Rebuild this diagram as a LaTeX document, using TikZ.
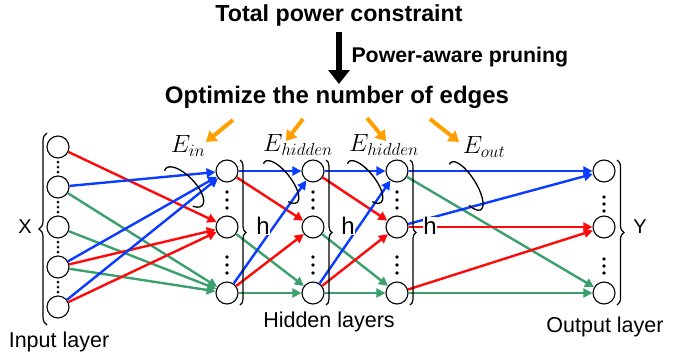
\documentclass[tikz,border=0pt]{standalone}
\usepackage{fontspec}
\setmainfont{Liberation Sans}
\usetikzlibrary{arrows.meta,decorations.pathreplacing}
\definecolor{eblue}{RGB}{10,60,255}
\definecolor{ered}{RGB}{255,10,10}
\definecolor{egreen}{RGB}{60,160,110}
\definecolor{eorange}{RGB}{255,160,0}
\begin{document}
\begin{tikzpicture}[x=1pt,y=-1pt,
  neuron/.style={circle,draw,line width=1.1pt,minimum size=22pt,inner sep=0pt},
  edge/.style={line width=2.4pt,-{Triangle[length=9pt,width=9pt]}},
  bl/.style={edge,eblue}, rd/.style={edge,ered}, gr/.style={edge,egreen},
  orangearrow/.style={line width=4pt,eorange,-{Triangle[length=10pt,width=13pt]}},
  brc/.style={decorate,decoration={brace,amplitude=6pt},line width=1.2pt},
  loopline/.style={line width=1.3pt},
  lbl/.style={font=\fontsize{20}{24}\selectfont},
  layerlbl/.style={font=\fontsize{21.5}{25}\selectfont},
  hlbl/.style={font=\fontsize{24}{28}\selectfont,fill=white,inner sep=0.5pt},
  mlbl/.style={font=\fontsize{23}{27}\selectfont,inner sep=0pt},
  dotc/.style={fill=black}
]
\useasboundingbox (0,0) rectangle (674,356);

% titles
\node[font=\bfseries\fontsize{23.2}{27}\selectfont] (title) at (339,16) {Total power constraint};
\node[font=\bfseries\fontsize{24}{28}\selectfont] (opt) at (337,97) {Optimize the number of edges};
\node[font=\bfseries\fontsize{21.3}{25}\selectfont,anchor=west] (prune) at (348,57) {Power-aware pruning};
\coordinate (bt) at (339,32);
\coordinate (bh) at (339,84);
\draw[line width=6.5pt,-{Triangle[length=14pt,width=21pt]}] (bt) -- (bh);

% neurons
\foreach \i/\y in {1/147,2/187,3/227,4/267,5/307} \node[neuron] (in\i) at (58,\y) {};
\foreach \i/\y in {1/171,2/227,3/293} {
  \node[neuron] (a\i) at (227,\y) {};
  \node[neuron] (b\i) at (313,\y) {};
  \node[neuron] (c\i) at (397,\y) {};
  \node[neuron] (o\i) at (604,\y) {};
}

% dots
\foreach \y in {167,207,247,287} \foreach \d in {-5,0,5} \fill[dotc] (58,\y+\d) circle (1.5pt);
\foreach \x in {227,313,397} \foreach \y in {192,200,208,257,265,273} \fill[dotc] (\x,\y) circle (1.8pt);
\foreach \y in {197,204,211,259,266,273} \fill[dotc] (604,\y) circle (1.8pt);

% input -> hidden 1
\draw[rd] (in1) -- (a2);
\draw[gr] (in2) -- (a3);
\draw[gr] (in3) -- (a3);
\draw[gr] (in4) -- (a3);
\draw[rd] (in4) -- (a2);
\draw[rd] (in5) -- (a2);
\draw[bl] (in2) -- (a1);
\draw[bl] (in4) -- (a1);
\draw[bl] (in5) -- (a1);

% hidden 1 -> hidden 2
\draw[gr] (a2) -- (b3);
\draw[gr] (a3) -- (b3);
\draw[rd] (a1) -- (b2);
\draw[rd] (a3) -- (b2);
\draw[bl] (a1) -- (b1);
\draw[bl] (a3) -- (b1);

% hidden 2 -> hidden 3
\draw[gr] (b2) -- (c3);
\draw[gr] (b3) -- (c3);
\draw[rd] (b1) -- (c2);
\draw[rd] (b3) -- (c2);
\draw[bl] (b1) -- (c1);
\draw[bl] (b3) -- (c1);

% hidden 3 -> output
\draw[gr] (c1) -- (o3);
\draw[gr] (c3) -- (o3);
\draw[rd] (c2) -- (o2);
\draw[rd] (c3) -- (o2);
\draw[bl] (c1) -- (o1);
\draw[bl] (c2) -- (o1);

% braces
\draw[brc,decoration={amplitude=8pt}] (47,325) -- (47,133);
\draw[brc] (240,160) -- (240,305);
\draw[brc] (326,160) -- (326,305);
\draw[brc] (410,160) -- (410,305);
\draw[brc,decoration={amplitude=7pt}] (617,160) -- (617,305);

% labels
\node[lbl] (X) at (25,227) {X};
\node[lbl] (Y) at (640,227) {Y};
\node[hlbl] (h1) at (263,226) {h};
\node[hlbl] (h2) at (348,226) {h};
\node[hlbl] (h3) at (430,226) {h};
\node[layerlbl] (inl) at (59,342) {Input layer};
\node[layerlbl] (hidl) at (329,322) {Hidden layers};
\node[layerlbl] (outl) at (605,327) {Output layer};

% edge-group labels
\node[mlbl] (ein) at (188,146) {$E_{in}$};
\node[mlbl] (eh1) at (298,145) {$E_{hidden}$};
\node[mlbl] (eh2) at (384,145) {$E_{hidden}$};
\node[mlbl] (eout) at (484,147) {$E_{out}$};

% orange arrows
\coordinate (o1t) at (233,120); \coordinate (o1h) at (206,142);
\coordinate (o2t) at (303,119); \coordinate (o2h) at (286,141);
\coordinate (o3t) at (367,118); \coordinate (o3h) at (386,141);
\coordinate (o4t) at (430,119); \coordinate (o4h) at (459,142);
\draw[orangearrow] (o1t) -- (o1h);
\draw[orangearrow] (o2t) -- (o2h);
\draw[orangearrow] (o3t) -- (o3h);
\draw[orangearrow] (o4t) -- (o4h);

% loops
\begin{scope}[shift={(184,187)},rotate=-46]
  \draw[loopline] (195:26pt and 11pt) arc[start angle=195,end angle=-40,x radius=26pt,y radius=11pt];
\end{scope}
\begin{scope}[shift={(281,182)},rotate=-52]
  \draw[loopline] (195:26pt and 10pt) arc[start angle=195,end angle=-40,x radius=26pt,y radius=10pt];
\end{scope}
\begin{scope}[shift={(365,182)},rotate=-52]
  \draw[loopline] (195:26pt and 10pt) arc[start angle=195,end angle=-40,x radius=26pt,y radius=10pt];
\end{scope}
\begin{scope}[shift={(466,186)},rotate=-58]
  \draw[loopline] (195:28pt and 10pt) arc[start angle=195,end angle=-50,x radius=28pt,y radius=10pt];
\end{scope}
\end{tikzpicture}
\end{document}
